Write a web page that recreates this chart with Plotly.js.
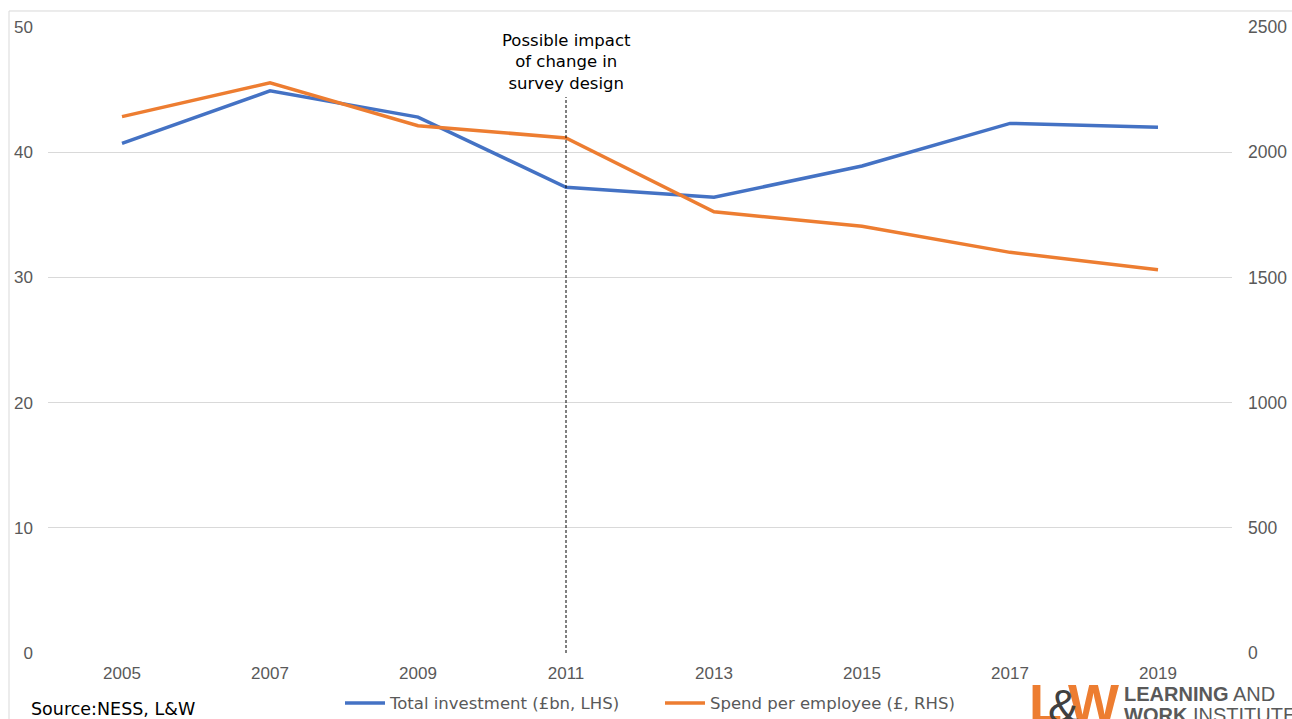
<!DOCTYPE html>
<html>
<head>
<meta charset="utf-8">
<script src="https://cdn.plot.ly/plotly-3.0.1.min.js"></script>
<style>html,body{margin:0;padding:0;background:#fff;}#chart{width:1292px;height:719px;}</style>
</head>
<body>
<div id="chart"></div>
<script>
const years = ['2005','2007','2009','2011','2013','2015','2017','2019'];
const totalInvestment = [40.7, 44.9, 42.8, 37.2, 36.4, 38.9, 42.3, 42.0];
const spendPerEmployee = [2142, 2277, 2106, 2057, 1762, 1704, 1600, 1531];
const leftTicks = [0, 10, 20, 30, 40, 50];
const rightTicks = [0, 500, 1000, 1500, 2000, 2500];
const seriesNames = ['Total investment (£bn, LHS)', 'Spend per employee (£, RHS)'];
const markerYear = '2011';

const W = 1292, H = 719;
const L = 48, R = 1232, T = 27, B = 652.7;
const px = x => (x - L) / (R - L);
const py = y => (B - y) / (B - T);
const font = 'Liberation Sans, Arial, sans-serif';
const wide = 'DejaVu Sans, sans-serif';

const traces = [
  {x: years, y: totalInvestment, name: seriesNames[0], type: 'scatter', mode: 'lines',
   line: {color: '#4472C4', width: 3.5}, yaxis: 'y'},
  {x: years, y: spendPerEmployee, name: seriesNames[1], type: 'scatter', mode: 'lines',
   line: {color: '#ED7D31', width: 3.5}, yaxis: 'y2'}
];

const layout = {
  width: W, height: H,
  margin: {l: L, r: W - R, t: T, b: H - B, autoexpand: false},
  paper_bgcolor: '#fff', plot_bgcolor: '#fff',
  font: {family: font, size: 17, color: '#595959'},
  showlegend: true,
  legend: {orientation: 'h', x: px(340), xanchor: 'left', y: py(703), yanchor: 'middle',
           font: {family: wide, size: 16.5, color: '#595959'}, traceorder: 'normal', itemwidth: 40,
           entrywidth: 265, entrywidthmode: 'pixels'},
  xaxis: {type: 'category', range: [-0.5, years.length - 0.5], showgrid: false, zeroline: false,
          showline: false, ticks: '', tickfont: {size: 17, color: '#595959'}, ticklabelstandoff: 8},
  yaxis: {range: [0, 50], tickvals: leftTicks, ticktext: leftTicks.map(String), showgrid: true,
          gridcolor: '#d9d9d9', gridwidth: 1, zeroline: false, showline: false, ticks: '',
          tickfont: {size: 17, color: '#595959'}, ticklabelstandoff: 14},
  yaxis2: {range: [0, 2500], tickvals: rightTicks, ticktext: rightTicks.map(String), overlaying: 'y',
           side: 'right', showgrid: false, zeroline: false, showline: false, ticks: '',
           tickfont: {size: 17.5, color: '#595959'}, ticklabelstandoff: 15},
  shapes: [
    {type: 'line', xref: 'x', yref: 'paper', x0: years.indexOf(markerYear), x1: years.indexOf(markerYear),
     y0: 0, y1: py(97), line: {color: '#000', width: 1, dash: '3px,2px'}},
    {type: 'line', xref: 'paper', yref: 'paper', x0: px(9), x1: px(1300), y0: py(11), y1: py(11),
     line: {color: '#d9d9d9', width: 1}},
    {type: 'line', xref: 'paper', yref: 'paper', x0: px(9), x1: px(9), y0: py(11), y1: py(730),
     line: {color: '#d9d9d9', width: 1}}
  ],
  annotations: [
    {xref: 'x', yref: 'paper', x: years.indexOf(markerYear), y: py(62), xanchor: 'center', yanchor: 'middle',
     text: 'Possible impact<br>of change in<br>survey design', showarrow: false,
     font: {family: wide, size: 16.5, color: '#000'}, align: 'center'},
    {xref: 'paper', yref: 'paper', x: px(29), y: py(709), xanchor: 'left', yanchor: 'middle',
     text: 'Source:NESS, L&amp;W', showarrow: false, font: {family: wide, size: 17.5, color: '#000'}},
    {xref: 'paper', yref: 'paper', x: px(1027), y: py(671), xanchor: 'left', yanchor: 'top',
     text: '<b>L</b>', showarrow: false, font: {family: font, size: 54, color: '#ED7D31'}},
    {xref: 'paper', yref: 'paper', x: px(1066), y: py(671), xanchor: 'left', yanchor: 'top',
     text: '<b>W</b>', showarrow: false, font: {family: font, size: 54, color: '#ED7D31'}},
    {xref: 'paper', yref: 'paper', x: px(1046), y: py(678), xanchor: 'left', yanchor: 'top',
     text: '&amp;', showarrow: false, font: {family: font, size: 46, color: '#404040'}},
    {xref: 'paper', yref: 'paper', x: px(1122), y: py(694), xanchor: 'left', yanchor: 'middle',
     text: '<b>LEARNING</b> AND', showarrow: false, font: {family: font, size: 20, color: '#595959'}},
    {xref: 'paper', yref: 'paper', x: px(1122), y: py(715), xanchor: 'left', yanchor: 'middle',
     text: '<b>WORK</b> INSTITUTE', showarrow: false, font: {family: font, size: 20, color: '#595959'}}
  ]
};

Plotly.newPlot('chart', traces, layout, {displayModeBar: false, staticPlot: true});
</script>
</body>
</html>
